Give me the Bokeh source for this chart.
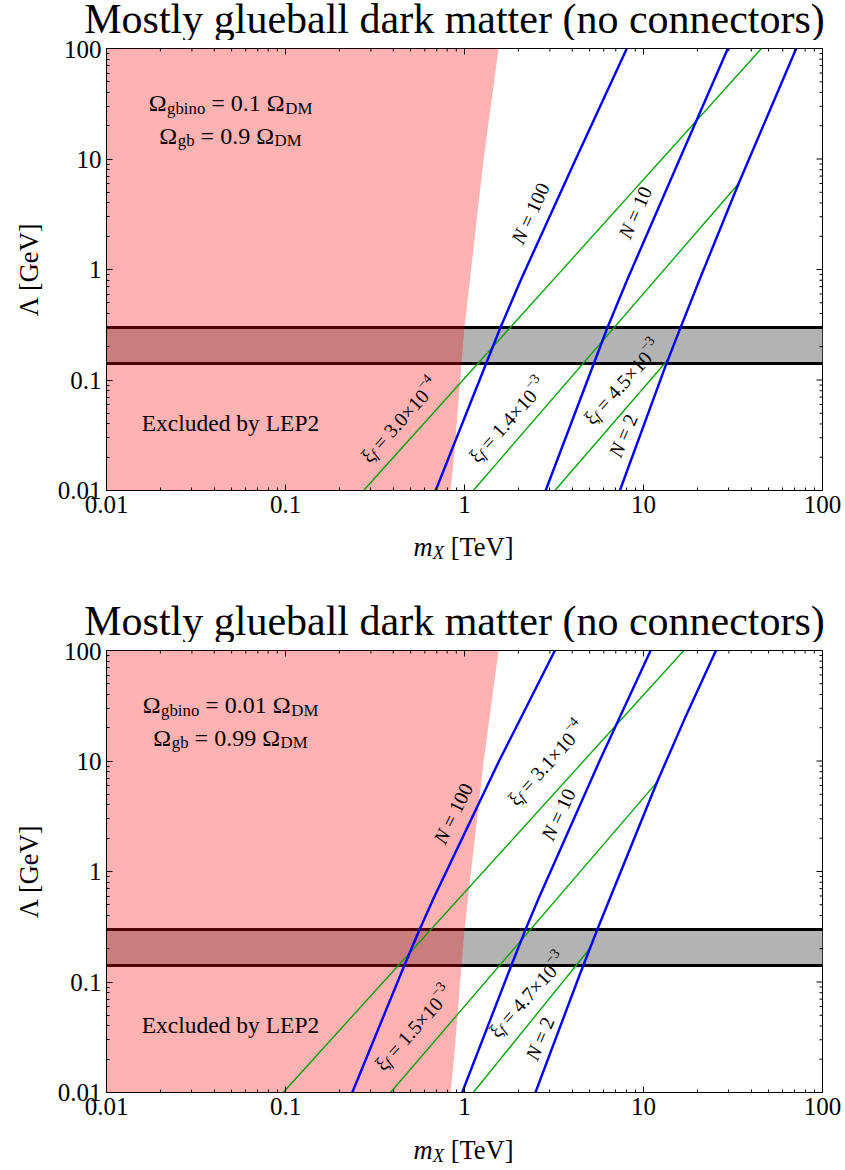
import math
from bokeh.plotting import figure
from bokeh.models import Range1d, LogTicker, CustomJSTickFormatter, Label
from bokeh.layouts import column
from bokeh.embed import file_html
from bokeh.resources import INLINE

FONT = "Liberation Serif"
TITLE = "Mostly glueball dark matter (no connectors)"
Y_LABEL = "Λ [GeV]"

# ---------------- data ----------------
x_range_lim = [0.01, 100]
y_range_lim = [0.01, 100]

# LEP2 exclusion boundary (m_X limit as function of Lambda), same in both panels
excl_lam = [0.01, 0.023, 0.14, 0.3, 1.5, 10, 100]
excl_mx = [0.836, 0.88, 0.962, 1.0, 1.12, 1.28, 1.55]

band_lo = 0.14
band_hi = 0.3

# top panel (Omega_gbino = 0.1)
top_n100_lam = [0.01, 0.3, 0.8, 9.7, 100]
top_n100_mx = [0.69, 1.59, 2.06, 4.15, 8.07]
top_n10_lam = [0.01, 0.3, 0.8, 9.7, 100]
top_n10_mx = [2.84, 6.3, 8.09, 15.8, 29.6]
top_n2_lam = [0.01, 0.135, 0.29, 0.8, 6.0, 100]
top_n2_mx = [7.38, 13.3, 16.0, 20.5, 34.0, 71.3]
top_xi1_lam = [0.01, 100]
top_xi1_mx = [0.273, 45.6]
top_xi2_lam = [0.01, 6.0]
top_xi2_mx = [1.12, 34.0]
top_xi3_lam = [0.01, 0.155]
top_xi3_mx = [3.2, 13.8]

# bottom panel (Omega_gbino = 0.01)
bot_n100_lam = [0.01, 0.136, 0.292, 0.566, 10, 100]
bot_n100_mx = [0.236, 0.457, 0.558, 0.670, 1.56, 3.2]
bot_n10_lam = [0.01, 0.136, 0.292, 0.566, 10, 100]
bot_n10_mx = [0.97, 1.81, 2.18, 2.59, 5.68, 10.96]
bot_n2_lam = [0.01, 0.115, 0.292, 6.43, 23.2, 100]
bot_n2_mx = [2.49, 4.39, 5.49, 11.9, 16.8, 25.4]
bot_xi1_lam = [0.01, 100]
bot_xi1_mx = [0.097, 16.8]
bot_xi2_lam = [0.01, 6.43]
bot_xi2_mx = [0.386, 11.9]
bot_xi3_lam = [0.01, 0.2]
bot_xi3_mx = [1.12, 5.0]

top_omega = ["0.1", "0.9"]
bot_omega = ["0.01", "0.99"]

# line labels: (kind, value text, exponent, x, y, angle)
top_labels = [
    ("N", "100", None, 2.37, 2.90, 65),
    ("N", "10", None, 9.14, 2.96, 66),
    ("N", "2", None, 7.83, 0.0283, 67),
    ("xi", "3.0", "4", 0.434, 0.0387, 48),
    ("xi", "1.4", "3", 1.74, 0.0387, 48),
    ("xi", "4.5", "3", 7.64, 0.0855, 48),
]
bot_labels = [
    ("N", "100", None, 0.879, 3.02, 64),
    ("xi", "3.1", "4", 2.87, 8.55, 48),
    ("N", "10", None, 3.40, 2.96, 65),
    ("xi", "1.5", "3", 0.519, 0.0342, 48),
    ("xi", "4.7", "3", 2.25, 0.068, 48),
    ("N", "2", None, 2.69, 0.0277, 67),
]

# mirrored tick positions (decades x mantissas)
minor_ticks = [m * 10.0 ** e for e in range(-2, 2) for m in range(2, 10)]
major_ticks = [10.0 ** e for e in range(-2, 3)]

# ---------------- helpers ----------------
W = {c: 0.5 for c in "0123456789"}
W.update({".": 0.25, " ": 0.25, "=": 0.564, "×": 0.564, "−": 0.564, "N": 0.667,
          "ξ": 0.44, "f": 0.278, "Ω": 0.768, "g": 0.5, "b": 0.5, "i": 0.278,
          "n": 0.5, "o": 0.5, "D": 0.722, "M": 0.889, "m": 0.722, "X": 0.611,
          "[": 0.333, "]": 0.333, "T": 0.611, "e": 0.444, "V": 0.722, "G": 0.722,
          "Λ": 0.722})


def tw(s):
    return sum(W.get(c, 0.5) for c in s)


def corr(fs):
    # empirical lift of the rendered baseline (pixels, in the text's own frame)
    return 8 + 0.1 * fs


def rich(p, x, y, pieces, size, angle_deg=0.0, dx=0.0, dy=0.0, center=True, vcenter=True, shift=0.0):
    th = math.radians(angle_deg)
    c, s = math.cos(th), math.sin(th)
    total = sum(tw(t) * size * sc for t, sc, st, sh in pieces)
    u = (-total / 2 if center else 0.0) + shift
    v0 = (-0.33 * size if vcenter else 0.0) + corr(size)
    for t, sc, st, sh in pieces:
        fs = size * sc
        lead = len(t) - len(t.lstrip(" "))
        trail = len(t) - len(t.rstrip(" "))
        core = t.strip(" ")
        u += lead * W[" "] * fs
        v = v0 + sh * size
        p.add_layout(Label(x=x, y=y, x_offset=dx + u * c - v * s, y_offset=dy + u * s + v * c,
                           angle=th, text=core, text_font=FONT, text_font_size=f"{fs:.1f}px",
                           text_font_style=st, text_align="left",
                           text_baseline="alphabetic", text_color="black"))
        u += tw(core) * fs + trail * W[" "] * fs


def style_axis(ax):
    ax.ticker = LogTicker(num_minor_ticks=10)
    ax.formatter = CustomJSTickFormatter(code="return String(parseFloat(tick.toPrecision(3)))")
    ax.major_tick_in = 6
    ax.major_tick_out = 0
    ax.minor_tick_in = 3
    ax.minor_tick_out = 0
    ax.axis_line_color = "black"
    ax.major_tick_line_color = "black"
    ax.minor_tick_line_color = "black"
    ax.major_label_text_font = FONT
    ax.major_label_text_color = "black"
    ax.major_label_text_font_size = "25px"
    ax.major_label_standoff = 5


def strip(h):
    s = figure(width=845, height=h, x_range=Range1d(0, 845), y_range=Range1d(h, 0),
               output_backend="svg", toolbar_location=None, title=None,
               x_axis_location=None, y_axis_location=None, min_border=0, frame_align=False)
    s.grid.visible = False
    s.outline_line_color = None
    s.background_fill_color = "white"
    s.border_fill_color = "white"
    return s


def xlabel(s, y):
    rich(s, 464, y, [("m", 1, "italic", 0), ("X", 0.7, "italic", -0.22), (" [TeV]", 1, "normal", 0)],
         26.5, vcenter=False)


def title(s, y):
    s.add_layout(Label(x=454, y=y, y_offset=corr(42), text=TITLE, text_font=FONT,
                       text_font_size="42px", text_align="center", text_baseline="alphabetic",
                       text_color="black"))


def panel(curves, omega, labels):
    p = figure(width=845, height=490, x_axis_type="log", y_axis_type="log",
               x_range=Range1d(*x_range_lim), y_range=Range1d(*y_range_lim),
               output_backend="svg", toolbar_location=None, title=None,
               min_border_left=106, min_border_right=23, min_border_top=8, min_border_bottom=40)
    p.grid.visible = False
    p.outline_line_color = "black"
    p.background_fill_color = "white"
    p.border_fill_color = "white"
    style_axis(p.xaxis[0])
    style_axis(p.yaxis[0])
    p.yaxis[0].axis_label = Y_LABEL
    p.yaxis[0].axis_label_text_font = FONT
    p.yaxis[0].axis_label_text_font_size = "26.5px"
    p.yaxis[0].axis_label_text_font_style = "normal"
    p.yaxis[0].axis_label_text_color = "black"
    p.yaxis[0].axis_label_standoff = 11

    # LEP band
    p.hstrip(y0=[band_lo], y1=[band_hi], fill_color="#b3b3b3", line_color=None)
    p.hspan(y=[band_lo, band_hi], line_color="black", line_width=3.2)
    # exclusion region
    p.harea(y=excl_lam, x1=[x_range_lim[0] / 10] * len(excl_lam), x2=excl_mx,
            fill_color="red", fill_alpha=0.3)
    # curves
    n100, n10, n2, xi1, xi2, xi3 = curves
    for lam, mx in (xi1, xi2, xi3):
        p.line(mx, lam, line_color="#00a000", line_width=1.3)
    for lam, mx in (n100, n10, n2):
        p.line(mx, lam, line_color="#0000ff", line_width=2.4)

    # mirrored ticks on the top and right frame edges (markers clipped by the frame)
    top_edge = [y_range_lim[1]]
    right_edge = [x_range_lim[1]]
    p.scatter(minor_ticks, top_edge * len(minor_ticks), marker="dash", size=6, angle=math.pi / 2,
              line_color="black", line_width=1)
    p.scatter(major_ticks, top_edge * len(major_ticks), marker="dash", size=12, angle=math.pi / 2,
              line_color="black", line_width=1)
    p.scatter(right_edge * len(minor_ticks), minor_ticks, marker="dash", size=6,
              line_color="black", line_width=1)
    p.scatter(right_edge * len(major_ticks), major_ticks, marker="dash", size=12,
              line_color="black", line_width=1)

    # texts inside the frame
    rich(p, x_range_lim[0], y_range_lim[1],
         [("Ω", 1, "normal", 0), ("gbino", 0.7, "normal", -0.22), (f" = {omega[0]} Ω", 1, "normal", 0),
          ("DM", 0.7, "normal", -0.22)], 24, dx=124, dy=-65, vcenter=False)
    rich(p, x_range_lim[0], y_range_lim[1],
         [("Ω", 1, "normal", 0), ("gb", 0.7, "normal", -0.22), (f" = {omega[1]} Ω", 1, "normal", 0),
          ("DM", 0.7, "normal", -0.22)], 24, dx=124, dy=-97.5, vcenter=False)
    p.add_layout(Label(x=x_range_lim[0], y=y_range_lim[0], x_offset=124, y_offset=57 + corr(23.5),
                       text="Excluded by LEP2", text_font=FONT, text_font_size="23.5px",
                       text_align="center", text_baseline="alphabetic", text_color="black"))

    for kind, val, ex, lx, ly, ang in labels:
        if kind == "N":
            pieces = [("N", 1, "italic", 0), (f" = {val}", 1, "normal", 0)]
        else:
            pieces = [("ξ", 1, "normal", 0), ("f", 0.7, "italic", -0.22),
                      (f" = {val}×10", 1, "normal", 0), (f"−{ex}", 0.7, "normal", 0.42)]
        rich(p, lx, ly, pieces, 20, angle_deg=ang, shift=4)
    return p


s1 = strip(40)
title(s1, 30.5)
p1 = panel([(top_n100_lam, top_n100_mx), (top_n10_lam, top_n10_mx), (top_n2_lam, top_n2_mx),
            (top_xi1_lam, top_xi1_mx), (top_xi2_lam, top_xi2_mx), (top_xi3_lam, top_xi3_mx)],
           top_omega, top_labels)
s2 = strip(112)
xlabel(s2, 27)
title(s2, 102.5)
p2 = panel([(bot_n100_lam, bot_n100_mx), (bot_n10_lam, bot_n10_mx), (bot_n2_lam, bot_n2_mx),
            (bot_xi1_lam, bot_xi1_mx), (bot_xi2_lam, bot_xi2_mx), (bot_xi3_lam, bot_xi3_mx)],
           bot_omega, bot_labels)
s3 = strip(34)
xlabel(s3, 28)

layout = column(s1, p1, s2, p2, s3, spacing=0)
open("out.html", "w").write(file_html(layout, INLINE))
